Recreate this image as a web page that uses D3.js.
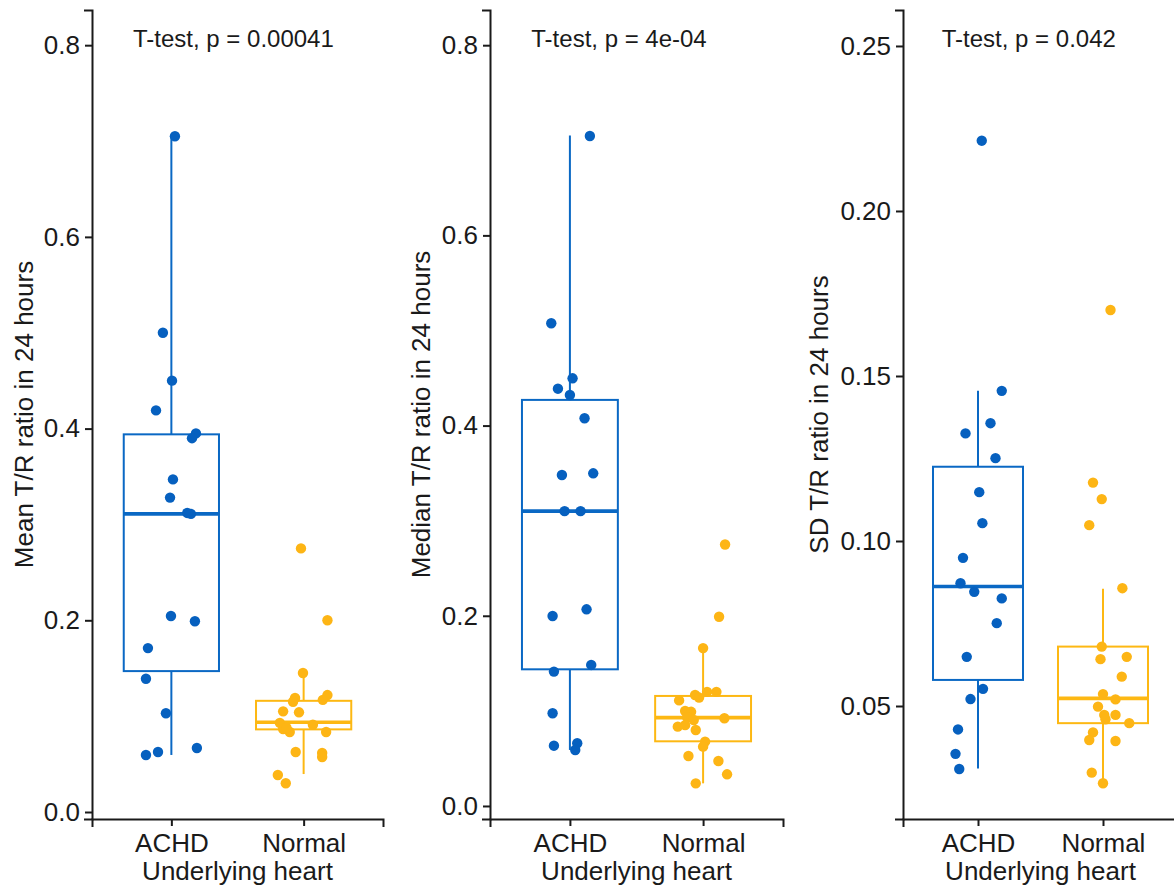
<!DOCTYPE html>
<html><head><meta charset="utf-8">
<script src="https://cdn.jsdelivr.net/npm/d3@7"></script>
<style>body{margin:0;background:#fff}svg{display:block}</style>
</head><body>
<svg id="chart" width="1174" height="888"></svg>
<script>
// ---------- data ----------
const categories = ["ACHD", "Normal"];
const xTitle = "Underlying heart";
const yTitles = ["Mean T/R ratio in 24 hours", "Median T/R ratio in 24 hours", "SD T/R ratio in 24 hours"];
const pLabels = ["T-test, p = 0.00041", "T-test, p = 4e-04", "T-test, p = 0.042"];
const yTicks1 = [0.0, 0.2, 0.4, 0.6, 0.8];
const yTicks2 = [0.0, 0.2, 0.4, 0.6, 0.8];
const yTicks3 = [0.05, 0.10, 0.15, 0.20, 0.25];

// Mean T/R ratio
const meanACHD = [0.705, 0.500, 0.450, 0.419, 0.395, 0.390, 0.347, 0.328, 0.311, 0.312, 0.2045, 0.199, 0.171, 0.139, 0.103, 0.0626, 0.0595, 0.0668];
const meanACHDJitter = [0.027, -0.064, 0.005, -0.116, 0.186, 0.156, 0.012, -0.01, 0.148, 0.12, -0.003, 0.178, -0.177, -0.192, -0.041, -0.101, -0.192, 0.193];
const meanNormal = [0.275, 0.200, 0.145, 0.122, 0.117, 0.119, 0.115, 0.105, 0.104, 0.093, 0.091, 0.0866, 0.0835, 0.0835, 0.088, 0.0626, 0.0616, 0.0574, 0.0386, 0.030];
const meanNormalJitter = [-0.02, 0.18, -0.005, 0.18, 0.145, -0.065, -0.08, -0.155, -0.035, -0.18, 0.07, -0.155, -0.105, 0.17, -0.13, -0.06, 0.14, 0.14, -0.195, -0.135];

// Median T/R ratio
const medianACHD = [0.7045, 0.5076, 0.4497, 0.4388, 0.4322, 0.4077, 0.348, 0.3498, 0.310, 0.310, 0.1998, 0.2068, 0.1483, 0.1413, 0.0975, 0.0634, 0.0659, 0.0589];
const medianACHDJitter = [0.15, -0.14, 0.02, -0.09, 0.0, 0.11, -0.06, 0.175, -0.04, 0.08, -0.13, 0.125, 0.16, -0.12, -0.13, -0.12, 0.055, 0.04];
const medianNormal = [0.275, 0.199, 0.166, 0.111, 0.1167, 0.114, 0.120, 0.120, 0.0999, 0.099, 0.0933, 0.0904, 0.0922, 0.0834, 0.085, 0.0799, 0.0676, 0.0624, 0.0526, 0.0473, 0.0333, 0.0238];
const medianNormalJitter = [0.165, 0.12, 0.0, -0.18, -0.06, -0.03, 0.03, 0.1, -0.135, -0.09, -0.12, -0.07, 0.16, -0.19, -0.135, -0.055, 0.015, 0.0, -0.11, 0.115, 0.18, -0.055];

// SD T/R ratio
const sdACHD = [0.2213, 0.1455, 0.1357, 0.1326, 0.1251, 0.1148, 0.1054, 0.0949, 0.0872, 0.0846, 0.0826, 0.0751, 0.0649, 0.0552, 0.0521, 0.0429, 0.0355, 0.0309];
const sdACHDJitter = [0.03, 0.19, 0.1, -0.1, 0.14, 0.01, 0.035, -0.12, -0.14, -0.03, 0.19, 0.15, -0.09, 0.04, -0.06, -0.16, -0.18, -0.15];
const sdNormal = [0.170, 0.1177, 0.1127, 0.1048, 0.0857, 0.068, 0.0642, 0.0649, 0.0589, 0.0536, 0.052, 0.0498, 0.0473, 0.0473, 0.046, 0.0448, 0.042, 0.0397, 0.0394, 0.0298, 0.0266];
const sdNormalJitter = [0.06, -0.08, -0.01, -0.11, 0.155, -0.01, -0.02, 0.19, 0.15, 0.0, 0.1, -0.04, 0.01, 0.1, 0.02, 0.21, -0.08, -0.11, 0.1, -0.09, 0.0];

// box statistics: [lower whisker, Q1, median, Q3, upper whisker]
const meanACHDBox = [0.0595, 0.147, 0.311, 0.394, 0.705];
const meanNormalBox = [0.0396, 0.0862, 0.0936, 0.116, 0.145];
const medianACHDBox = [0.0589, 0.1437, 0.310, 0.427, 0.705];
const medianNormalBox = [0.0238, 0.068, 0.0929, 0.1157, 0.1658];
const sdACHDBox = [0.0311, 0.0579, 0.0862, 0.1225, 0.1455];
const sdNormalBox = [0.0266, 0.0448, 0.0523, 0.068, 0.0855];

// ---------- layout & style ----------
const colors = {ACHD: "#0a68c4", Normal: "#fdb813"};
const pointColors = {ACHD: "#0660bf", Normal: "#fdb515"};
const FONT = "'Liberation Sans', Arial, Helvetica, sans-serif";
const plotTop = 10, plotBottom = 819;
const panels = [
  {left: 92, right: 383, domain: [-0.0073, 0.8367], ticks: yTicks1, fmt: ".1f", titleX: 33,
   groups: [[meanACHD, meanACHDJitter, meanACHDBox], [meanNormal, meanNormalJitter, meanNormalBox]]},
  {left: 490, right: 783, domain: [-0.0137, 0.837], ticks: yTicks2, fmt: ".1f", titleX: 430,
   groups: [[medianACHD, medianACHDJitter, medianACHDBox], [medianNormal, medianNormalJitter, medianNormalBox]]},
  {left: 903, right: 1178, domain: [0.01576, 0.2609], ticks: yTicks3, fmt: ".2f", titleX: 828,
   groups: [[sdACHD, sdACHDJitter, sdACHDBox], [sdNormal, sdNormalJitter, sdNormalBox]]}
];

const svg = d3.select("#chart");

panels.forEach((p, pi) => {
  const g = svg.append("g");
  const x = d3.scalePoint().domain(categories).range([p.left, p.right]).padding(0.6);
  const step = x.step();
  const y = d3.scaleLinear().domain(p.domain).range([plotBottom, plotTop]);
  const boxW = 0.72 * step;

  // boxes
  p.groups.forEach((grp, gi) => {
    const cat = categories[gi];
    const box = grp[2];
    const cx = x(cat);
    const col = colors[cat];
    const bg = g.append("g");
    bg.append("line").attr("x1", cx).attr("x2", cx).attr("y1", y(box[3])).attr("y2", y(box[4]))
      .attr("stroke", col).attr("stroke-width", 2);
    bg.append("line").attr("x1", cx).attr("x2", cx).attr("y1", y(box[1])).attr("y2", y(box[0]))
      .attr("stroke", col).attr("stroke-width", 2);
    bg.append("rect").attr("x", cx - boxW / 2).attr("width", boxW)
      .attr("y", y(box[3])).attr("height", y(box[1]) - y(box[3]))
      .attr("fill", "#fff").attr("stroke", col).attr("stroke-width", 2);
    bg.append("line").attr("x1", cx - boxW / 2).attr("x2", cx + boxW / 2)
      .attr("y1", y(box[2])).attr("y2", y(box[2]))
      .attr("stroke", col).attr("stroke-width", 3.6);
  });
  // points
  p.groups.forEach((grp, gi) => {
    const cat = categories[gi];
    const vals = grp[0], jit = grp[1];
    const cx = x(cat);
    g.append("g").selectAll("circle").data(vals).join("circle")
      .attr("cx", (d, i) => cx + jit[i] * step)
      .attr("cy", d => y(d))
      .attr("r", 5.2)
      .attr("fill", pointColors[cat]);
  });

  // axes
  const ya = g.append("g").attr("transform", `translate(${p.left},0)`)
    .call(d3.axisLeft(y).tickValues(p.ticks).tickFormat(d3.format(p.fmt)).tickSizeOuter(0).tickSize(7).tickPadding(5));
  const xa = g.append("g").attr("transform", `translate(0,${plotBottom})`)
    .call(d3.axisBottom(x).tickSizeOuter(0).tickSize(7).tickPadding(8));
  [ya, xa].forEach(a => {
    a.select(".domain").attr("stroke", "#1a1a1a").attr("stroke-width", 2).attr("stroke-linecap", "square");
    a.selectAll(".tick line").attr("stroke", "#1a1a1a").attr("stroke-width", 2);
    a.selectAll(".tick text").attr("fill", "#1a1a1a").style("font-family", FONT).style("font-size", "26px");
  });

  // axis titles
  g.append("text").attr("transform", `translate(${p.titleX},${(plotTop + plotBottom) / 2}) rotate(-90)`)
    .attr("text-anchor", "middle").style("font-family", FONT).style("font-size", "26px").attr("fill", "#1a1a1a")
    .text(yTitles[pi]);
  g.append("text").attr("x", (p.left + p.right) / 2).attr("y", 880)
    .attr("text-anchor", "middle").style("font-family", FONT).style("font-size", "26px").attr("fill", "#1a1a1a")
    .text(xTitle);

  // p-value label
  g.append("text").attr("x", x(categories[0]) - 0.29 * step).attr("y", 47)
    .style("font-family", FONT).style("font-size", "24px").attr("fill", "#1a1a1a")
    .text(pLabels[pi]);
});
</script>
</body></html>
